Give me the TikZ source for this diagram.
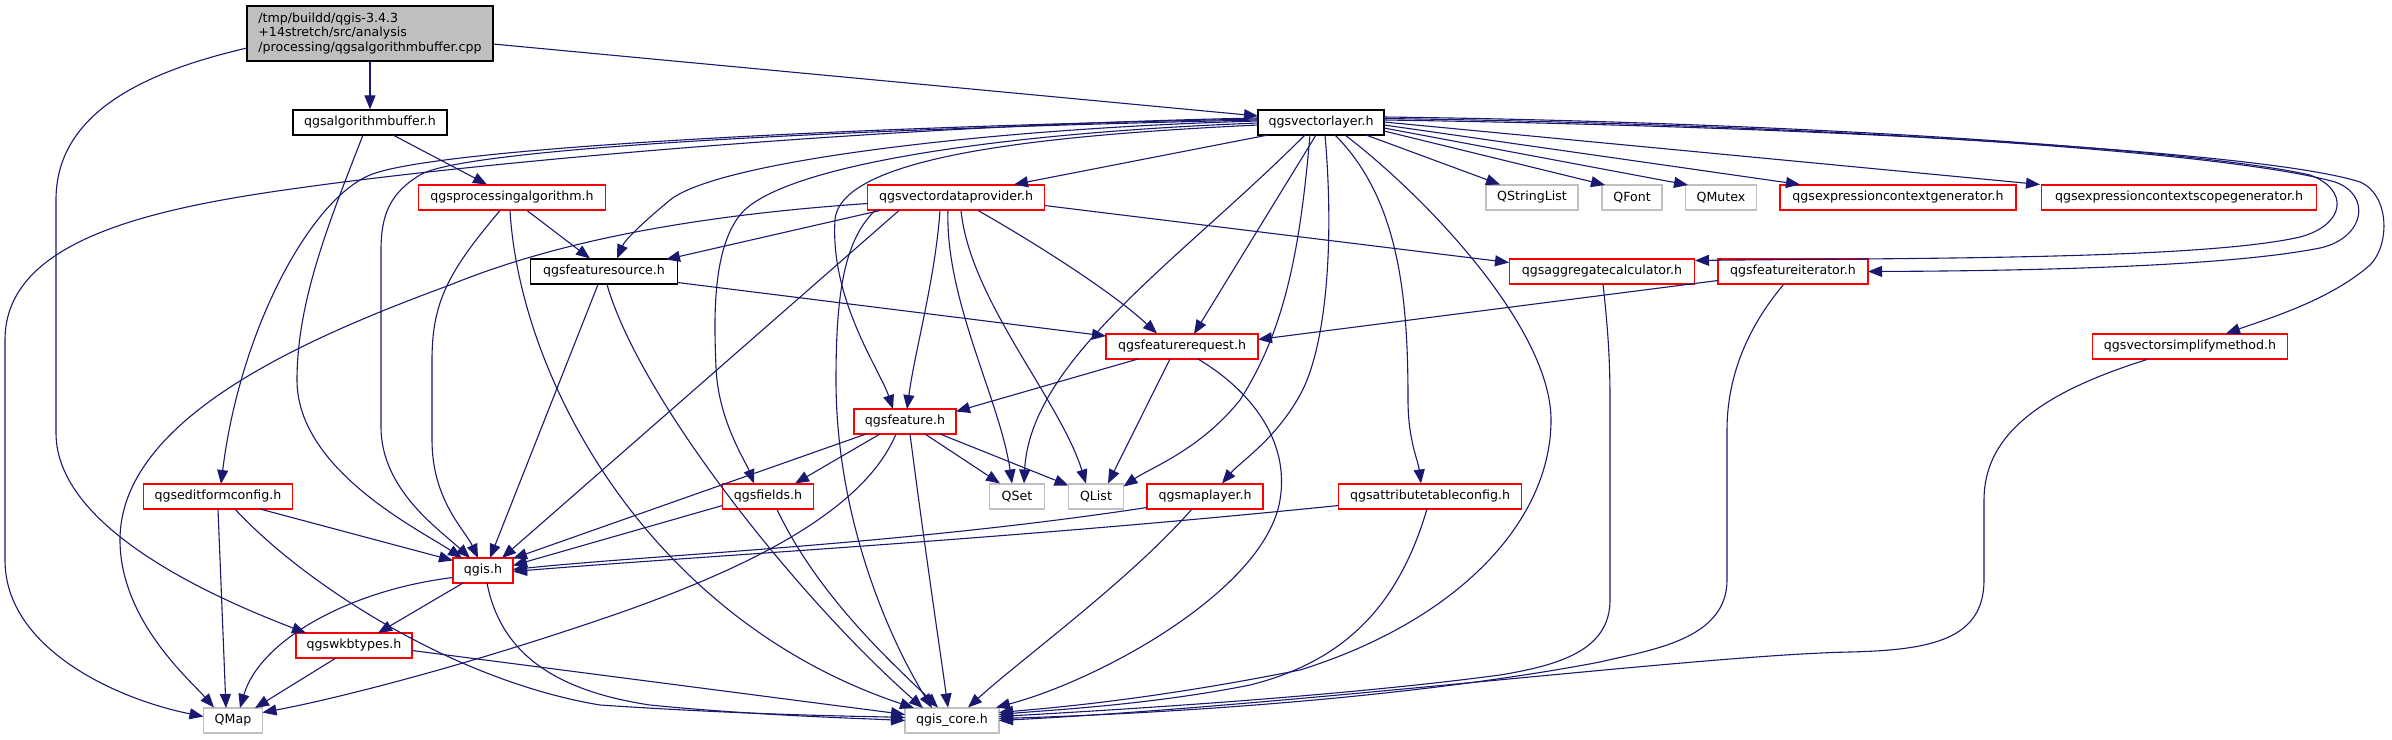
\documentclass[tikz,border=0pt]{standalone}
\usepackage{fontspec}
\newfontfamily\dxfont{DejaVu Sans}
\usetikzlibrary{arrows.meta,calc}
\definecolor{edgeblue}{RGB}{25,25,112}
\definecolor{qgrey}{RGB}{191,191,191}
\newcommand{\nodefnt}{\dxfont\fontsize{6.3}{7.25}\selectfont}
\begin{document}
\begin{tikzpicture}[x=0.5pt,y=-0.5pt]
\tikzset{
  box/.style={draw, fill=white, line width=0.65pt, minimum height=12.5pt, inner sep=0pt, font=\nodefnt},
  blackbox/.style={box, draw=black},
  redbox/.style={box, draw=red},
  greybox/.style={box, draw=qgrey},
  edge/.style={draw=edgeblue, line width=0.55pt, -{Triangle[length=7pt,width=5.5pt]}},
}
\fill[white] (0,0) rectangle (2392,739);
\useasboundingbox (0,0) rectangle (2392,739);

% nodes
\node[blackbox, fill=qgrey, minimum width=123pt, minimum height=27.5pt, align=left] (root) at (370,33.5) {/tmp/buildd/qgis-3.4.3\\+14stretch/src/analysis\\/processing/qgsalgorithmbuffer.cpp};
\node[blackbox, minimum width=77pt] (algbuf) at (370,122.5) {qgsalgorithmbuffer.h};
\node[blackbox, minimum width=63pt] (vlayer) at (1321,122.5) {qgsvectorlayer.h};
\node[redbox, minimum width=93.5pt] (procalg) at (512,197.5) {qgsprocessingalgorithm.h};
\node[redbox, minimum width=88.5pt] (vdp) at (956,197.5) {qgsvectordataprovider.h};
\node[greybox, minimum width=46pt] (qstrl) at (1532,197.5) {QStringList};
\node[greybox, minimum width=30pt] (qfont) at (1632,197.5) {QFont};
\node[greybox, minimum width=35.5pt] (qmutex) at (1721,197.5) {QMutex};
\node[redbox, minimum width=118pt] (exprgen) at (1898,197.5) {qgsexpressioncontextgenerator.h};
\node[redbox, minimum width=137.5pt] (exprscope) at (2179,197.5) {qgsexpressioncontextscopegenerator.h};
\node[blackbox, minimum width=73.5pt] (fsource) at (604,271.5) {qgsfeaturesource.h};
\node[redbox, minimum width=92.5pt] (aggcalc) at (1602,271.5) {qgsaggregatecalculator.h};
\node[redbox, minimum width=75pt] (fiter) at (1793,271.5) {qgsfeatureiterator.h};
\node[redbox, minimum width=76pt] (freq) at (1182,346.5) {qgsfeaturerequest.h};
\node[redbox, minimum width=97.5pt] (simplify) at (2190,346.5) {qgsvectorsimplifymethod.h};
\node[redbox, minimum width=51pt] (feature) at (905,421.5) {qgsfeature.h};
\node[redbox, minimum width=45.5pt] (fields) at (768,496.5) {qgsfields.h};
\node[greybox, minimum width=27.5pt] (qset) at (1017,496.5) {QSet};
\node[greybox, minimum width=27.5pt] (qlist) at (1096,496.5) {QList};
\node[redbox, minimum width=58pt] (maplayer) at (1205,496.5) {qgsmaplayer.h};
\node[redbox, minimum width=91.5pt] (attrtab) at (1430,496.5) {qgsattributetableconfig.h};
\node[redbox, minimum width=74.5pt] (editform) at (218,496.5) {qgseditformconfig.h};
\node[redbox, minimum width=30pt] (qgis) at (483,570.5) {qgis.h};
\node[redbox, minimum width=58pt] (wkb) at (354,645.5) {qgswkbtypes.h};
\node[greybox, minimum width=29.5pt] (qmap) at (233,720.5) {QMap};
\node[greybox, minimum width=47pt] (core) at (952,720.5) {qgis\_core.h};

% root
\draw[edge] (root.south) -- (algbuf.north);
\draw[edge] ($(root)+(123,10.5)$) -- ($(vlayer)+(-63,-6.5)$);
\draw[edge] ($(root)+(-123,14.5)$) .. controls (130,75) and (56,120) .. (56,200) -- (56,433) .. controls (56,530) and (220,600) .. ($(wkb)+(-48,-12.5)$);
% algorithmbuffer
\draw[edge] ($(algbuf)+(23,12.5)$) -- ($(procalg)+(-25,-13)$);
\draw[edge] ($(algbuf)+(-7,12.5)$) .. controls (330,220) and (297,300) .. (297,380) .. controls (297,470) and (420,530) .. ($(qgis)+(-21,-12.5)$);
% processingalgorithm
\draw[edge] ($(procalg)+(15,13)$) -- ($(fsource)+(-14,-13)$);
\draw[edge] ($(procalg)+(-12,13)$) .. controls (450,270) and (432,300) .. (432,360) -- (432,440) .. controls (432,500) and (465,530) .. ($(qgis)+(-5,-12.5)$);
\draw[edge] ($(procalg)+(-2,13)$) .. controls (520,380) and (650,620) .. ($(core)+(-38,-12.5)$);
% featuresource
\draw[edge] ($(fsource)+(73.5,11)$) -- ($(freq)+(-76,-10.5)$);
\draw[edge] ($(fsource)+(-6,13)$) -- ($(qgis)+(7,-12.5)$);
\draw[edge] ($(fsource)+(3,13)$) .. controls (640,400) and (800,600) .. ($(core)+(-29,-12.5)$);
% vectorlayer
\draw[edge] ($(vlayer)+(-63,-4.5)$) .. controls (900,125) and (500,160) .. (306,187) .. controls (150,208) and (5,240) .. (5,340) -- (5,560) .. controls (5,650) and (120,700) .. ($(qmap)+(-29.5,-4)$);
\draw[edge] ($(vlayer)+(-63,-3.5)$) .. controls (800,128) and (430,150) .. (370,175) .. controls (310,200) and (240,330) .. ($(editform)+(3,-12.5)$);
\draw[edge] ($(vlayer)+(-63,-2.5)$) .. controls (800,130) and (460,150) .. (420,175) .. controls (390,193) and (381,215) .. (381,250) -- (381,427) .. controls (381,490) and (440,530) .. ($(qgis)+(-13,-12.5)$);
\draw[edge] ($(vlayer)+(-63,-1.5)$) .. controls (1000,128) and (720,160) .. (670,200) .. controls (640,225) and (625,240) .. ($(fsource)+(13,-13)$);
\draw[edge] ($(vlayer)+(-53,12.5)$) -- ($(vdp)+(58,-13)$);
\draw[edge] ($(vlayer)+(-63,2.5)$) .. controls (1050,135) and (840,155) .. (835,220) .. controls (830,300) and (880,370) .. ($(feature)+(-12,-12.5)$);
\draw[edge] ($(vlayer)+(24,12.5)$) .. controls (1430,200) and (1551,330) .. (1551,420) .. controls (1551,520) and (1460,620) .. (1300,670) .. controls (1150,700) and (1050,708) .. ($(core)+(47,-8)$);
\draw[edge] ($(vlayer)+(45,12.5)$) -- ($(qstrl)+(-32,-13)$);
\draw[edge] ($(vlayer)+(63,8.5)$) -- ($(qfont)+(-27,-12.5)$);
\draw[edge] ($(vlayer)+(63,5.5)$) -- ($(qmutex)+(-33,-12.5)$);
\draw[edge] ($(vlayer)+(63,2.5)$) -- ($(exprgen)+(-98,-13)$);
\draw[edge] ($(vlayer)+(63,-0.5)$) -- ($(exprscope)+(-139,-13)$);
\draw[edge] ($(vlayer)+(63,-5.5)$) .. controls (1800,122) and (2200,150) .. (2310,175) .. controls (2350,190) and (2345,225) .. (2300,237) .. controls (2200,260) and (1900,258) .. ($(aggcalc)+(93,-11)$);
\draw[edge] ($(vlayer)+(63,-4)$) .. controls (1800,124) and (2220,150) .. (2335,182) .. controls (2372,195) and (2365,238) .. (2320,248) .. controls (2220,268) and (2000,271) .. ($(fiter)+(75,0)$);
\draw[edge] ($(vlayer)+(63,-2.5)$) .. controls (1800,126) and (2260,150) .. (2360,182) .. controls (2390,195) and (2390,245) .. (2370,265) .. controls (2330,300) and (2270,318) .. ($(simplify)+(36,-13)$);
\draw[edge] ($(vlayer)+(-5,12.5)$) -- ($(freq)+(12,-12.5)$);
\draw[edge] ($(vlayer)+(-16,12.5)$) .. controls (1180,260) and (1030,360) .. ($(qset)+(7,-13)$);
\draw[edge] ($(vlayer)+(-11,12.5)$) .. controls (1300,250) and (1285,330) .. (1240,400) .. controls (1200,450) and (1150,468) .. ($(qlist)+(27.5,-10)$);
\draw[edge] ($(vlayer)+(-63,0.5)$) .. controls (1000,133) and (780,165) .. (740,215) .. controls (712,250) and (714,320) .. (716,367) .. controls (718,420) and (745,460) .. ($(fields)+(-14,-13)$);
\draw[edge] ($(vlayer)+(4,12.5)$) .. controls (1335,250) and (1325,350) .. (1300,395) .. controls (1275,440) and (1240,462) .. ($(maplayer)+(17,-13)$);
\draw[edge] ($(vlayer)+(14,12.5)$) .. controls (1400,200) and (1408,300) .. (1408,400) .. controls (1408,440) and (1418,460) .. ($(attrtab)+(-9,-13)$);
% vectordataprovider
\draw[edge] ($(vdp)+(-76,13)$) -- ($(fsource)+(62,-12)$);
\draw[edge] ($(vdp)+(-88.5,6)$) .. controls (700,215) and (560,240) .. (450,285) .. controls (300,340) and (120,420) .. (120,540) .. controls (120,620) and (190,680) .. ($(qmap)+(-19,-13)$);
\draw[edge] ($(vdp)+(-57,13)$) -- ($(qgis)+(19,-12.5)$);
\draw[edge] ($(vdp)+(-16,13)$) .. controls (935,280) and (915,350) .. ($(feature)+(2,-12.5)$);
\draw[edge] ($(vdp)+(-81,13)$) .. controls (845,240) and (836,290) .. (836,380) .. controls (836,520) and (890,640) .. ($(core)+(-20,-12.5)$);
\draw[edge] ($(vdp)+(-8,13)$) .. controls (945,300) and (1000,400) .. ($(qset)+(-5,-13)$);
\draw[edge] ($(vdp)+(5,13)$) .. controls (970,300) and (1060,400) .. ($(qlist)+(-10,-13)$);
\draw[edge] ($(vdp)+(22,13)$) .. controls (1030,240) and (1110,290) .. ($(freq)+(-25,-13)$);
\draw[edge] ($(vdp)+(88.5,8)$) -- ($(aggcalc)+(-93,-9)$);
% feature
\draw[edge] ($(feature)+(-25,12.5)$) -- ($(fields)+(27,-13)$);
\draw[edge] ($(feature)+(20,12.5)$) -- ($(qset)+(-17,-13)$);
\draw[edge] ($(feature)+(35,12.5)$) -- ($(qlist)+(-27.5,-11)$);
\draw[edge] ($(feature)+(-39,12.5)$) -- ($(qgis)+(30,-12)$);
\draw[edge] ($(feature)+(5,12.5)$) .. controls (925,550) and (940,650) .. ($(core)+(-4,-13)$);
\draw[edge] ($(feature)+(-9,12.5)$) .. controls (860,520) and (720,580) .. (584,625) .. controls (450,670) and (330,700) .. ($(qmap)+(29.5,-8)$);
% fields
\draw[edge] ($(fields)+(-45.5,9)$) -- ($(qgis)+(30,-5)$);
\draw[edge] ($(fields)+(9,13)$) .. controls (820,600) and (900,670) .. ($(core)+(-14,-13)$);
% featurerequest
\draw[edge] ($(freq)+(-44,12.5)$) -- ($(feature)+(51,-10)$);
\draw[edge] ($(freq)+(-12,12.5)$) -- ($(qlist)+(12,-13)$);
\draw[edge] ($(freq)+(16,12.5)$) .. controls (1250,390) and (1290,440) .. (1280,500) .. controls (1265,590) and (1100,680) .. ($(core)+(44,-13)$);
% maplayer, attributetableconfig
\draw[edge] ($(maplayer)+(-58,11)$) .. controls (900,545) and (650,555) .. ($(qgis)+(30,-1)$);
\draw[edge] ($(maplayer)+(-13,12.5)$) .. controls (1130,580) and (1020,660) .. ($(core)+(16,-13)$);
\draw[edge] ($(attrtab)+(-91.5,9)$) .. controls (1000,540) and (700,556) .. ($(qgis)+(30,1)$);
\draw[edge] ($(attrtab)+(-3,12.5)$) .. controls (1400,600) and (1350,660) .. (1250,685) .. controls (1150,705) and (1050,710) .. ($(core)+(47,-6)$);
% aggregatecalculator, featureiterator, simplifymethod
\draw[edge] ($(aggcalc)+(1,12.5)$) .. controls (1608,330) and (1610,360) .. (1610,400) -- (1610,600) .. controls (1610,650) and (1560,665) .. (1500,675) .. controls (1350,695) and (1150,708) .. ($(core)+(47,-4)$);
\draw[edge] ($(fiter)+(-75,9)$) -- ($(freq)+(76,-7)$);
\draw[edge] ($(fiter)+(-9,12.5)$) .. controls (1745,330) and (1727,380) .. (1727,430) -- (1727,580) .. controls (1727,640) and (1650,650) .. (1600,662) .. controls (1400,700) and (1150,714) .. ($(core)+(47,-2)$);
\draw[edge] ($(simplify)+(-43,13)$) .. controls (2050,390) and (1984,430) .. (1984,500) -- (1984,580) .. controls (1984,640) and (1930,650) .. (1850,652) .. controls (1700,655) and (1300,705) .. ($(core)+(47,0)$);
% editformconfig
\draw[edge] ($(editform)+(42,12.5)$) -- ($(qgis)+(-30,-10)$);
\draw[edge] ($(editform)+(0,12.5)$) -- ($(qmap)+(-7,-12.5)$);
\draw[edge] ($(editform)+(17,12.5)$) .. controls (300,580) and (450,680) .. (600,705) .. controls (750,715) and (850,716) .. ($(core)+(-47,-3)$);
% qgis.h
\draw[edge] ($(qgis)+(-20,12.5)$) -- ($(wkb)+(24,-12.5)$);
\draw[edge] ($(qgis)+(-30,7)$) .. controls (350,590) and (260,640) .. ($(qmap)+(7,-12.5)$);
\draw[edge] ($(qgis)+(4,12.5)$) .. controls (500,650) and (550,690) .. (650,705) .. controls (750,715) and (850,718) .. ($(core)+(-47,0)$);
% wkbtypes
\draw[edge] ($(wkb)+(-18,12.5)$) -- ($(qmap)+(22,-12.5)$);
\draw[edge] ($(wkb)+(58,5)$) -- ($(core)+(-47,-6)$);
\end{tikzpicture}
\end{document}
